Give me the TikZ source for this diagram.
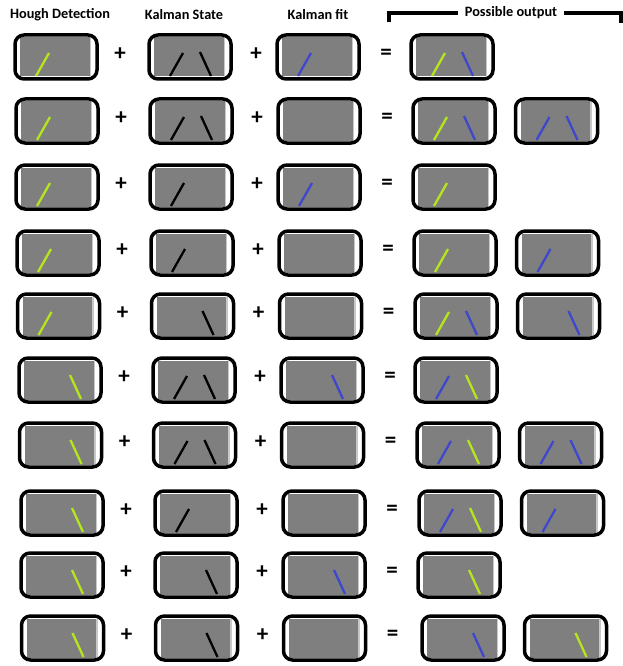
\documentclass[tikz,border=0pt]{standalone}
\usepackage{fontspec}
\setmainfont{Carlito}
\usetikzlibrary{positioning}

\definecolor{scrgray}{HTML}{7F7F7F}
\definecolor{scredge}{HTML}{C8C8C8}
\definecolor{houghgreen}{HTML}{B5E61D}
\definecolor{fitblue}{HTML}{3F48CC}

% one lane line inside a screen: #1 = screen node, #2 = lane style
\newcommand{\laneleft}[2]{\draw[#2] ([shift={(-20,19)}]#1.center) -- ([shift={(-7,-4)}]#1.center);}
\newcommand{\laneright}[2]{\draw[#2] ([shift={(10,-5)}]#1.center) -- ([shift={(21,19)}]#1.center);}

\begin{document}
\begin{tikzpicture}[
    x=1pt, y=-1pt,
    screen/.style={
        draw,
        line width=3.5pt,
        rounded corners=9pt,
        fill=white,
        inner sep=0pt,
        minimum width=82pt,
        minimum height=44pt,
        path picture={
            \fill[scrgray, sharp corners]
                ([shift={(5pt,2.5pt)}]path picture bounding box.south west)
                rectangle ([shift={(-7.5pt,-2.5pt)}]path picture bounding box.north east);
            \fill[scredge, sharp corners]
                ([shift={(-7.5pt,2.5pt)}]path picture bounding box.south east)
                rectangle ([shift={(-6pt,-2.5pt)}]path picture bounding box.north east);
        }
    },
    op/.style={inner sep=0pt, font=\bfseries\fontsize{23}{23}\selectfont},
    head/.style={inner sep=0pt, font=\bfseries\fontsize{14.3}{14.3}\selectfont},
    bracket/.style={line width=3.5pt},
    lanehough/.style={houghgreen, line width=2.3pt},
    lanestate/.style={black, line width=2.3pt},
    lanefit/.style={fitblue, line width=2.3pt}
]
\useasboundingbox (0,0) rectangle (623,666);

% column heads
\node[head] (hhough) at (60,15) {Hough Detection};
\node[head] (hstate) at (184,15) {Kalman State};
\node[head] (hfit) at (318,15) {Kalman fit};
\node[head] (hout) at (511,13) {Possible output};
\draw[bracket] (389,22) |- ([xshift=-7pt]hout.west);
\draw[bracket] ([xshift=7pt]hout.east) -| (621,23);

% rows: y, drift of inputs, drift of outputs
\foreach \i/\y/\dx/\ox in {1/57/0/0, 2/121/1/2, 3/187/1/2, 4/253/2/3, 5/316/2.5/4,
                           6/380/4/4, 7/445/4.5/6, 8/513/6/8, 9/575/6/7, 10/638/6.5/11} {
    \node[screen] (h\i) at (56+\dx,\y) {};
    \node[op] (p\i) at (120+\dx,\y-3) {+};
    \node[screen] (k\i) at (190+\dx,\y) {};
    \node[op] (q\i) at (256+\dx,\y-3) {+};
    \node[screen] (f\i) at (318+\dx,\y) {};
    \node[op] (e\i) at (386+\dx,\y-3) {=};
    \node[screen] (o\i) at (452+\ox,\y) {};
}

% second possible outputs
\node[screen, right=17pt of o2] (s2) {};
\node[screen, right=17pt of o4] (s4) {};
\node[screen, right=17pt of o5] (s5) {};
\node[screen, right=17pt of o7] (s7) {};
\node[screen, right=17pt of o8] (s8) {};
\node[screen, right=17pt of o10] (s10) {};

% lanes
\laneleft{h1}{lanehough} \laneleft{k1}{lanestate} \laneright{k1}{lanestate}
\laneleft{f1}{lanefit} \laneleft{o1}{lanehough} \laneright{o1}{lanefit}

\laneleft{h2}{lanehough} \laneleft{k2}{lanestate} \laneright{k2}{lanestate}
\laneleft{o2}{lanehough} \laneright{o2}{lanefit} \laneleft{s2}{lanefit} \laneright{s2}{lanefit}

\laneleft{h3}{lanehough} \laneleft{k3}{lanestate} \laneleft{f3}{lanefit} \laneleft{o3}{lanehough}

\laneleft{h4}{lanehough} \laneleft{k4}{lanestate} \laneleft{o4}{lanehough} \laneleft{s4}{lanefit}

\laneleft{h5}{lanehough} \laneright{k5}{lanestate}
\laneleft{o5}{lanehough} \laneright{o5}{lanefit} \laneright{s5}{lanefit}

\laneright{h6}{lanehough} \laneleft{k6}{lanestate} \laneright{k6}{lanestate}
\laneright{f6}{lanefit} \laneleft{o6}{lanefit} \laneright{o6}{lanehough}

\laneright{h7}{lanehough} \laneleft{k7}{lanestate} \laneright{k7}{lanestate}
\laneleft{o7}{lanefit} \laneright{o7}{lanehough} \laneleft{s7}{lanefit} \laneright{s7}{lanefit}

\laneright{h8}{lanehough} \laneleft{k8}{lanestate}
\laneleft{o8}{lanefit} \laneright{o8}{lanehough} \laneleft{s8}{lanefit}

\laneright{h9}{lanehough} \laneright{k9}{lanestate} \laneright{f9}{lanefit} \laneright{o9}{lanehough}

\laneright{h10}{lanehough} \laneright{k10}{lanestate} \laneright{o10}{lanefit} \laneright{s10}{lanehough}
\end{tikzpicture}
\end{document}
